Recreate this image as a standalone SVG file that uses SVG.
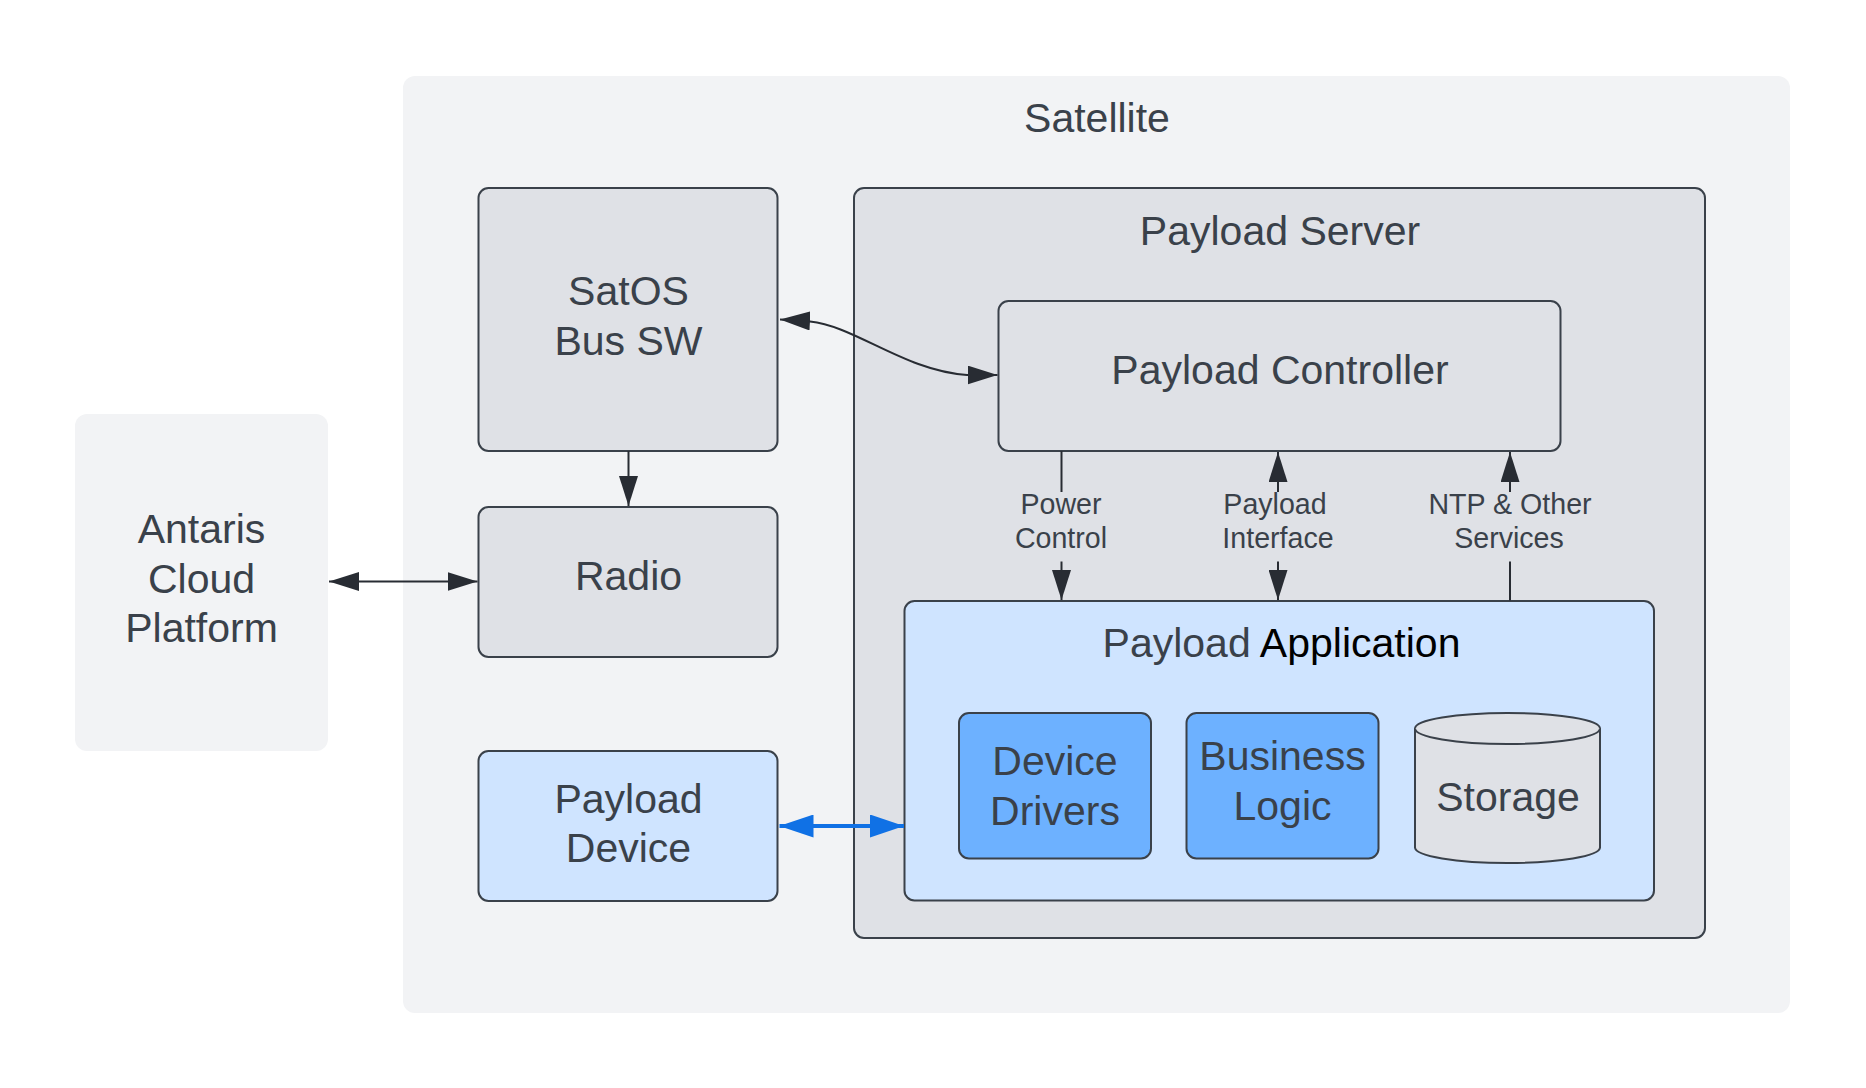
<svg xmlns="http://www.w3.org/2000/svg" width="1866" height="1088" viewBox="0 0 1866 1088">
<style>
text{font-family:"Liberation Sans",Arial,sans-serif;fill:#3a414a;text-anchor:middle}
.big{font-size:41px}
.lbl{font-size:28.6px}
.cont{fill:#f2f3f5;stroke:none}
.gray{fill:#dfe1e6;stroke:#3a414a;stroke-width:2}
.lblue{fill:#cfe4ff;stroke:#3a414a;stroke-width:2}
.dblue{fill:#6db1ff;stroke:#3a414a;stroke-width:2}
.cyl{fill:#dfe1e6;stroke:#3a414a;stroke-width:2}
.con{fill:none;stroke:#282c33;stroke-width:2}
.blue{fill:none;stroke:#1071e5;stroke-width:4}
</style>
<defs>
<marker id="ah" markerUnits="userSpaceOnUse" markerWidth="30" markerHeight="19" refX="30" refY="9.5" orient="auto-start-reverse" viewBox="0 0 30 19">
<path d="M0,0 L30,9.5 L0,19 Z" fill="#282c33"/>
</marker>
<marker id="bh" markerUnits="userSpaceOnUse" markerWidth="34" markerHeight="23" refX="34" refY="11.5" orient="auto-start-reverse" viewBox="0 0 34 23">
<path d="M0,0 L34,11.5 L0,23 Z" fill="#1071e5"/>
</marker>
</defs>
<rect width="1866" height="1088" fill="#ffffff"/>

<g id="satellite">
<rect class="cont" x="403" y="76" width="1387" height="937" rx="12"/>
<text class="big" x="1097" y="132">Satellite</text>
</g>

<g id="antaris">
<rect class="cont" x="75" y="414" width="253" height="337" rx="12"/>
<text class="big" x="201.5" y="543">Antaris</text>
<text class="big" x="201.5" y="592.5">Cloud</text>
<text class="big" x="201.5" y="641.5">Platform</text>
</g>

<g id="satos">
<rect class="gray" x="478.5" y="188" width="299" height="263" rx="10"/>
<text class="big" x="628.5" y="305">SatOS</text>
<text class="big" x="628.5" y="355">Bus SW</text>
</g>

<g id="radio">
<rect class="gray" x="478.5" y="507" width="299" height="150" rx="10"/>
<text class="big" x="628.5" y="589.5">Radio</text>
</g>

<g id="payload-device">
<rect class="lblue" x="478.5" y="751" width="299" height="150" rx="10"/>
<text class="big" x="628.5" y="813">Payload</text>
<text class="big" x="628.5" y="862">Device</text>
</g>

<g id="payload-server">
<rect class="gray" x="854" y="188" width="851" height="750" rx="10"/>
<text class="big" x="1280" y="244.5">Payload Server</text>
</g>

<g id="payload-controller">
<rect class="gray" x="998.5" y="301" width="562" height="150" rx="10"/>
<text class="big" x="1280" y="383.5">Payload Controller</text>
</g>

<g id="payload-application">
<rect class="lblue" x="904.5" y="601" width="749.5" height="299.5" rx="10"/>
<text class="big" x="1281.5" y="657"><tspan>Payload </tspan><tspan style="fill:#000000">Application</tspan></text>
</g>

<g id="device-drivers">
<rect class="dblue" x="959" y="713" width="192" height="145.5" rx="10"/>
<text class="big" x="1055" y="775">Device</text>
<text class="big" x="1055" y="825">Drivers</text>
</g>

<g id="business-logic">
<rect class="dblue" x="1186.5" y="713" width="192" height="145.5" rx="10"/>
<text class="big" x="1282.5" y="769.5">Business</text>
<text class="big" x="1282.5" y="819.5">Logic</text>
</g>

<g id="storage">
<path class="cyl" d="M1415,728.5 A92.5,15.5 0 0 1 1600,728.5 L1600,847.5 A92.5,15.5 0 0 1 1415,847.5 Z"/>
<path class="cyl" d="M1415,728.5 A92.5,15.5 0 0 0 1600,728.5" fill="none"/>
<text class="big" x="1508" y="811">Storage</text>
</g>

<g id="connectors">
<path class="con" d="M628.5,451 L628.5,506" marker-end="url(#ah)"/>
<path class="con" d="M329,581.5 L477.5,581.5" marker-start="url(#ah)" marker-end="url(#ah)"/>
<path class="con" d="M780,319.5 C790,320 800,320.5 810,321.5 C855,326 905,371 967,375 C977,375 987,375 997.5,375" marker-start="url(#ah)" marker-end="url(#ah)"/>
<path class="blue" d="M779.5,826 L904,826" marker-start="url(#bh)" marker-end="url(#bh)"/>
<path class="con" d="M1061.5,451 L1061.5,492"/>
<path class="con" d="M1061.5,561.5 L1061.5,600" marker-end="url(#ah)"/>
<path class="con" d="M1278,452 L1278,492" marker-start="url(#ah)"/>
<path class="con" d="M1278,561.5 L1278,600" marker-end="url(#ah)"/>
<path class="con" d="M1510,452 L1510,492" marker-start="url(#ah)"/>
<path class="con" d="M1510,561.5 L1510,600.5"/>
<text class="lbl" x="1061" y="514">Power</text>
<text class="lbl" x="1061" y="548">Control</text>
<text class="lbl" x="1275" y="514">Payload</text>
<text class="lbl" x="1278" y="548">Interface</text>
<text class="lbl" x="1510" y="514">NTP &amp; Other</text>
<text class="lbl" x="1509" y="548">Services</text>
</g>
</svg>
